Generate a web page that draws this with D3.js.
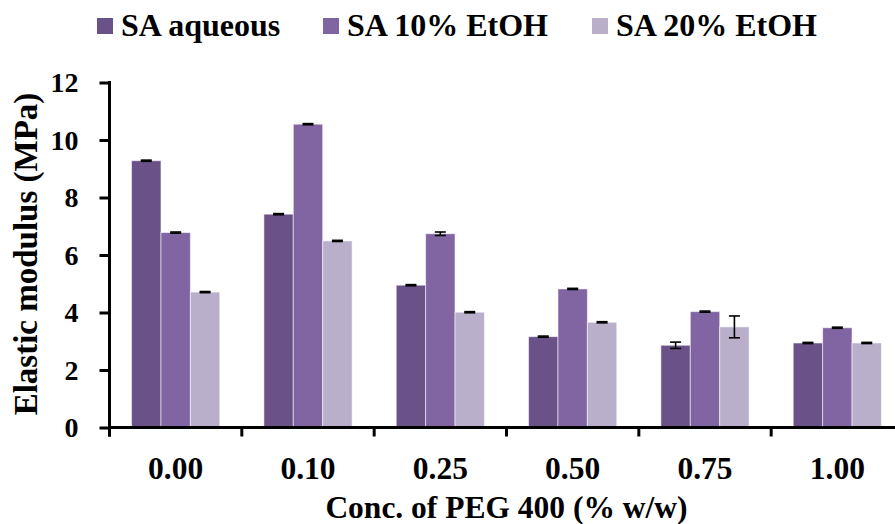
<!DOCTYPE html>
<html>
<head>
<meta charset="utf-8">
<script src="https://cdn.jsdelivr.net/npm/d3@7"></script>
<style>
  body { margin: 0; background: #fff; }
  svg { display: block; font-family: "Liberation Serif", "Times New Roman", serif; font-weight: bold; }
</style>
</head>
<body>
<div id="chart"></div>
<script>
// data
let categories = ["0.00", "0.10", "0.25", "0.50", "0.75", "1.00"];
let seriesNames = ["SA aqueous", "SA 10% EtOH", "SA 20% EtOH"];
let aqueous   = [9.28, 7.42, 4.95, 3.16, 2.86, 2.94];
let etoh10    = [6.78, 10.55, 6.74, 4.82, 4.03, 3.47];
let etoh20    = [4.71, 6.49, 4.01, 3.66, 3.50, 2.94];
let aqueousErr = [0.02, 0.02, 0.02, 0.02, 0.11, 0.02];
let etoh10Err  = [0.02, 0.02, 0.06, 0.02, 0.02, 0.02];
let etoh20Err  = [0.02, 0.02, 0.02, 0.02, 0.38, 0.02];
let yTicks = [0, 2, 4, 6, 8, 10, 12];

let colors = ["#6a5187", "#8165a2", "#b9afca"];

let width = 895, height = 524;
let series = [
    {name: seriesNames[0], values: aqueous, errs: aqueousErr},
    {name: seriesNames[1], values: etoh10, errs: etoh10Err},
    {name: seriesNames[2], values: etoh20, errs: etoh20Err}
];

let svg = d3.select("#chart").append("svg")
    .attr("width", width)
    .attr("height", height);

// plot area runs past the right edge, like the cropped original
let x0 = 109.5, x1 = 903.5, yBase = 427.5, yTop = 82.5;

let x = d3.scaleBand()
    .domain(categories)
    .range([x0, x1])
    .paddingInner(0)
    .paddingOuter(0);

let xInner = d3.scaleBand()
    .domain(seriesNames)
    .range([0, x.bandwidth()])
    .paddingInner(0)
    .paddingOuter(0.75);

let y = d3.scaleLinear()
    .domain([0, 12])
    .range([yBase, yTop]);

// bars
let groups = svg.append("g")
    .selectAll("g")
    .data(series)
    .enter().append("g")
    .attr("fill", (d, i) => colors[i]);

groups.selectAll("rect")
    .data(d => d.values.map((v, i) => ({series: d.name, cat: categories[i], v: v, e: d.errs[i]})))
    .enter().append("rect")
    .attr("x", d => x(d.cat) + xInner(d.series))
    .attr("y", d => y(d.v))
    .attr("width", xInner.bandwidth())
    .attr("height", d => y(0) - y(d.v))
    .attr("stroke", "#ffffff")
    .attr("stroke-opacity", 0.55)
    .attr("stroke-width", 1);

// error bars
let err = groups.selectAll("g.err")
    .data(d => d.values.map((v, i) => ({series: d.name, cat: categories[i], v: v, e: d.errs[i]})))
    .enter().append("g")
    .attr("class", "err")
    .attr("stroke", "#000")
    .attr("stroke-width", 1.6)
    .attr("transform", d => "translate(" + (x(d.cat) + xInner(d.series) + xInner.bandwidth() / 2) + ",0)");

err.append("line")
    .attr("x1", 0).attr("x2", 0)
    .attr("y1", d => y(d.v - d.e))
    .attr("y2", d => y(d.v + d.e));
err.append("line")
    .attr("x1", -5.5).attr("x2", 5.5)
    .attr("y1", d => y(d.v + d.e))
    .attr("y2", d => y(d.v + d.e));
err.append("line")
    .attr("x1", -5.5).attr("x2", 5.5)
    .attr("y1", d => y(d.v - d.e))
    .attr("y2", d => y(d.v - d.e));

// y axis
let yAxis = svg.append("g")
    .attr("transform", "translate(" + x0 + ",0)")
    .call(d3.axisLeft(y).tickValues(yTicks).tickSize(10).tickSizeOuter(0).tickPadding(21));
yAxis.select(".domain").attr("stroke", "#000").attr("stroke-width", 3)
    .attr("d", "M0," + (yTop - 1.5) + "V" + (yBase + 9));
yAxis.selectAll(".tick line").attr("stroke", "#000").attr("stroke-width", 3);
yAxis.selectAll(".tick text")
    .attr("font-size", 28)
    .attr("font-family", "Liberation Serif")
    .attr("font-weight", "bold")
    .attr("fill", "#000")
    .attr("dy", "0.33em");

// x axis
let xAxis = svg.append("g")
    .attr("transform", "translate(0," + yBase + ")")
    .call(d3.axisBottom(x).tickSize(0).tickPadding(36));
xAxis.select(".domain").attr("stroke", "#000").attr("stroke-width", 3)
    .attr("d", "M" + (x0 - 1.5) + ",0H" + x1);
xAxis.selectAll(".tick text")
    .attr("font-size", 31.5)
    .attr("font-family", "Liberation Serif")
    .attr("font-weight", "bold")
    .attr("fill", "#000")
    .attr("dy", "0.5em");

// category boundary ticks
svg.append("g")
    .selectAll("line")
    .data(categories.map(c => x(c)).concat([x1]))
    .enter().append("line")
    .attr("x1", d => d).attr("x2", d => d)
    .attr("y1", yBase).attr("y2", yBase + 9)
    .attr("stroke", "#000")
    .attr("stroke-width", 3);

// axis titles
svg.append("text")
    .attr("x", (x0 + x1) / 2)
    .attr("y", 518)
    .attr("text-anchor", "middle")
    .attr("font-size", 31.5)
    .text("Conc. of PEG 400 (% w/w)");

svg.append("text")
    .attr("transform", "translate(37,254) rotate(-90)")
    .attr("text-anchor", "middle")
    .attr("font-size", 33)
    .text("Elastic modulus (MPa)");

// legend
let legendX = [97, 323, 592];
let legend = svg.append("g")
    .selectAll("g")
    .data(seriesNames)
    .enter().append("g")
    .attr("transform", (d, i) => "translate(" + legendX[i] + ",0)");
legend.append("rect")
    .attr("x", 0).attr("y", 18)
    .attr("width", 16).attr("height", 16)
    .attr("fill", (d, i) => colors[i]);
legend.append("text")
    .attr("x", 24)
    .attr("y", 36)
    .attr("font-size", 32)
    .text(d => d);
</script>
</body>
</html>
